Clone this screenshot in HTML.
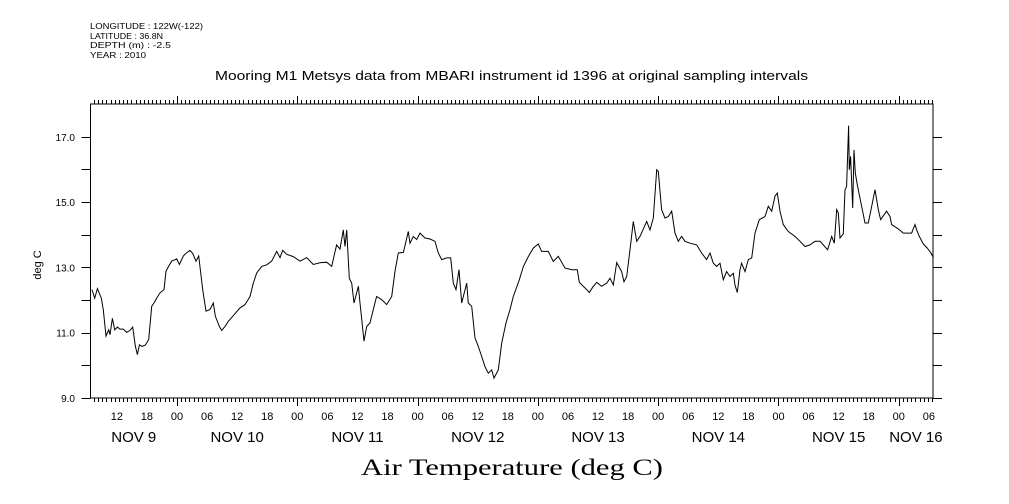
<!DOCTYPE html>
<html><head><meta charset="utf-8"><style>
body{margin:0;background:#fff;width:1009px;height:504px;overflow:hidden}
svg{display:block}
text{font-family:"Liberation Sans",sans-serif;fill:#000}
</style></head><body>
<svg id="chart" width="1009" height="504" viewBox="0 0 1009 504">
<g font-size="8.5">
<text x="90" y="29" textLength="113" lengthAdjust="spacingAndGlyphs">LONGITUDE : 122W(-122)</text>
<text x="90" y="39" textLength="73" lengthAdjust="spacingAndGlyphs">LATITUDE : 36.8N</text>
<text x="90" y="48" textLength="81" lengthAdjust="spacingAndGlyphs">DEPTH (m) : -2.5</text>
<text x="90" y="58" textLength="56" lengthAdjust="spacingAndGlyphs">YEAR : 2010</text>
</g>
<text x="215" y="80" textLength="593" lengthAdjust="spacingAndGlyphs" font-size="12.5">Mooring M1 Metsys data from MBARI instrument id 1396 at original sampling intervals</text>
<rect x="90.5" y="104" width="842.5" height="294" fill="none" stroke="#000" stroke-width="1"/>
<g id="axes"></g>
<path id="series" fill="none" stroke="#000" stroke-width="1"/>
<text transform="translate(41,265) rotate(-90)" text-anchor="middle" font-size="11">deg C</text>
<text x="512" y="475" text-anchor="middle" font-size="23" textLength="302" lengthAdjust="spacingAndGlyphs" style="font-family:'Liberation Serif',serif">Air Temperature (deg C)</text>
</svg>
<script>
// hours since Nov 9 00:00
const times=[7.04,7.57,8.11,8.90,9.30,9.83,10.37,10.63,11.10,11.56,12.10,12.63,13.29,13.96,14.62,15.16,15.69,16.09,16.49,17.02,17.68,18.35,18.95,19.41,19.94,20.61,21.41,21.81,22.34,22.94,23.93,24.47,25.26,25.93,26.59,27.13,27.79,28.32,29.12,29.79,30.59,31.25,31.65,32.45,32.91,33.57,34.24,35.10,36.57,37.57,38.56,39.23,39.89,40.89,41.89,42.88,43.88,44.55,45.08,45.88,47.21,48.54,49.87,51.20,52.53,53.86,54.86,55.85,56.52,57.18,57.52,57.85,58.38,58.85,59.31,60.18,60.51,61.31,61.84,62.50,63.17,63.83,64.83,65.83,66.83,67.49,68.16,69.16,70.15,70.48,71.15,71.82,72.48,73.48,74.48,75.47,76.14,76.80,77.80,78.60,79.13,79.66,80.26,80.79,81.79,82.12,82.79,83.45,84.12,84.78,85.45,86.11,86.78,87.24,88.11,88.77,89.63,90.43,91.10,92.29,93.10,94.09,95.09,96.09,96.75,98.08,99.08,100.08,101.41,102.74,103.87,104.27,105.73,106.26,107.06,107.73,108.72,109.72,110.39,111.05,111.72,112.71,113.18,113.71,114.38,115.04,115.71,116.37,117.70,118.37,119.03,119.70,120.03,120.69,121.36,122.02,122.69,123.35,124.02,124.68,125.35,126.35,127.68,128.67,129.67,130.34,131.00,131.67,132.33,133.00,133.66,134.33,134.99,135.32,135.79,136.32,136.65,137.32,137.98,138.65,139.31,140.18,141.31,141.97,142.64,143.30,143.77,144.30,144.97,145.96,147.29,148.29,149.29,150.29,151.28,152.28,152.95,153.81,154.61,155.14,155.61,155.94,156.27,156.94,157.27,157.60,158.00,158.13,158.40,158.80,159.06,159.33,159.73,160.26,161.26,161.92,162.59,163.25,163.92,164.38,165.58,166.25,166.58,167.91,168.91,169.91,170.57,171.24,171.57,172.10,172.90,173.70,174.43,174.90];
const temps=[12.32,12.06,12.35,12.06,11.70,10.90,11.09,10.94,11.44,11.09,11.17,11.11,11.11,11.01,11.07,11.17,10.58,10.33,10.63,10.58,10.62,10.79,11.81,11.91,12.06,12.22,12.32,12.88,13.04,13.19,13.26,13.09,13.35,13.45,13.52,13.43,13.19,13.35,12.32,11.66,11.71,11.91,11.50,11.19,11.07,11.19,11.35,11.50,11.76,11.86,12.11,12.52,12.83,13.03,13.08,13.19,13.49,13.30,13.52,13.40,13.33,13.19,13.30,13.09,13.14,13.16,13.03,13.69,13.56,14.15,13.64,14.15,12.67,12.52,11.91,12.42,11.91,10.74,11.19,11.30,11.71,12.11,12.01,11.86,12.11,12.88,13.44,13.46,14.10,13.74,13.95,13.85,14.05,13.90,13.87,13.80,13.44,13.24,13.29,13.29,12.52,12.32,12.93,11.91,12.52,11.91,11.81,10.84,10.58,10.27,9.96,9.76,9.86,9.61,9.86,10.68,11.30,11.71,12.11,12.62,13.03,13.33,13.59,13.72,13.49,13.49,13.18,13.34,12.98,12.93,12.93,12.54,12.32,12.23,12.42,12.54,12.42,12.52,12.67,12.46,13.15,12.87,12.56,12.72,13.54,14.41,13.80,13.95,14.41,14.15,14.51,15.99,15.94,14.77,14.51,14.56,14.72,14.05,13.80,13.95,13.80,13.74,13.69,13.44,13.24,13.44,13.13,13.03,13.13,12.62,12.87,12.72,12.82,12.46,12.23,12.93,13.13,12.87,13.24,13.29,14.05,14.46,14.56,14.87,14.72,15.18,15.28,14.72,14.31,14.10,13.95,13.80,13.64,13.69,13.80,13.80,13.69,13.54,13.95,13.74,14.77,14.67,13.90,14.03,15.37,15.48,17.34,15.99,16.40,14.82,16.60,15.89,15.53,15.12,14.36,14.36,14.87,15.38,14.77,14.46,14.72,14.56,14.31,14.18,14.05,14.05,14.05,14.31,14.15,13.95,13.72,13.59,13.44,13.29];
const yTicks=[9,11,13,15,17];
const yTickLabels=["9.0","11.0","13.0","15.0","17.0"];
const hourLabels=["00","06","12","18"];
const dayLabels=["NOV  9","NOV 10","NOV 11","NOV 12","NOV 13","NOV 14","NOV 15","NOV 16"];

const X0=90.5,X1=933,Y0=398,Y1=104;
const T0=6.74,T1=174.83;
const xs=t=>X0+(t-T0)/(T1-T0)*(X1-X0);
const ys=v=>Y0-(v-9)*32.65;
const NS="http://www.w3.org/2000/svg";
const ax=document.getElementById('axes');
function mk(tag,attrs,txt){const e=document.createElementNS(NS,tag);for(const k in attrs)e.setAttribute(k,attrs[k]);if(txt!==undefined)e.textContent=txt;ax.appendChild(e);return e;}
let d='';
const step=24/29;
for(let day=0;day<=8;day++){for(let k=0;k<29;k++){const t=day*24+k*step;if(t<T0||t>T1)continue;const x=(Math.round(xs(t))+0.5).toFixed(1);
 if(k===0){d+=`M${x} ${Y0}v8M${x} ${Y1}v-8`;}else{d+=`M${x} ${Y0}v4M${x} ${Y1}v-4`;}}}
for(let v=9;v<=17.5;v++){const y=(Math.round(ys(v))+0.5).toFixed(1);d+=`M${X0} ${y}h-9M${X1} ${y}h9`;}
const tk=mk('path',{d:d,stroke:'#000','stroke-width':1,fill:'none','shape-rendering':'crispEdges'});


yTicks.forEach((v,i)=>{const e=mk('text',{x:75,y:ys(v)+4,'text-anchor':'end','font-size':10},yTickLabels[i]);

});
for(let t=0;t<=T1;t+=6){if(t<T0)continue;const e=mk('text',{x:xs(t),y:420,'text-anchor':'middle','font-size':11},hourLabels[(t/6)%4]);

}
dayLabels.forEach((lab,i)=>{const a=Math.max(T0,i*24),b=Math.min(T1,(i+1)*24);const e=mk('text',{x:(xs(a)+xs(b))/2,y:442,'text-anchor':'middle','font-size':15,'xml:space':'preserve'},lab);

});
document.getElementById('series').setAttribute('d',times.map((t,i)=>(i?'L':'M')+xs(t).toFixed(1)+' '+ys(temps[i]).toFixed(1)).join(''));
</script>
</body></html>
